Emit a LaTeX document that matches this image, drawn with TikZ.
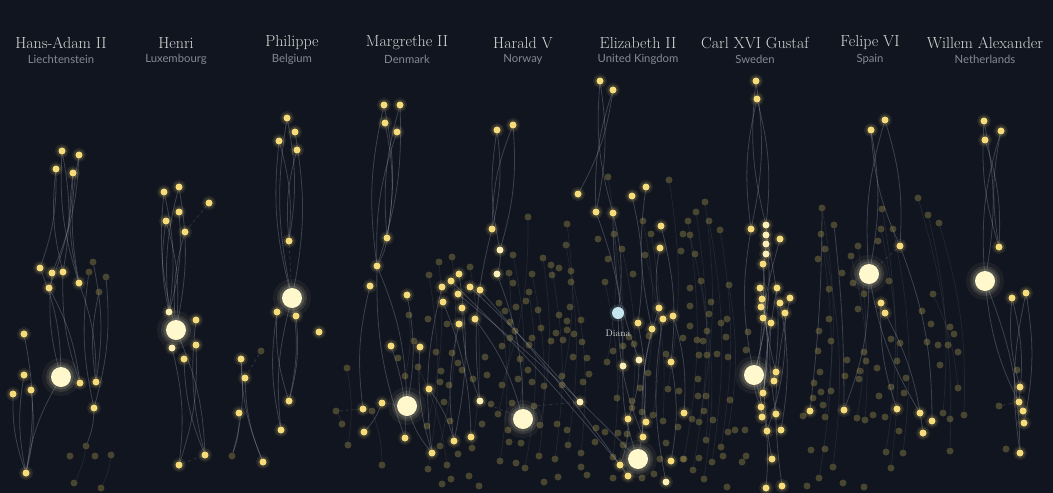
\documentclass[tikz,border=0pt]{standalone}
\usepackage{fontspec}
\setsansfont{Lato}
\usetikzlibrary{backgrounds}
\definecolor{bgc}{HTML}{11151F}
\definecolor{bigc}{HTML}{FFF8CC}
\definecolor{dotc}{HTML}{F6DC7A}
\definecolor{palec}{HTML}{FBF0B8}
\definecolor{dimc}{HTML}{C8B45A}
\definecolor{edgec}{HTML}{A4A9BE}
\definecolor{titlec}{HTML}{D6D6D6}
\definecolor{countryc}{HTML}{858993}
\definecolor{dianac}{HTML}{C5E6EE}
\tikzset{
 big/.style={circle, inner sep=0pt, minimum size=20pt, fill=bigc,
   preaction={draw=bigc, draw opacity=.05, line width=18pt},
   preaction={draw=bigc, draw opacity=.10, line width=10pt},
   preaction={draw=bigc, draw opacity=.15, line width=5pt}},
 dot/.style={circle, inner sep=0pt, minimum size=7pt, fill=dotc,
   preaction={draw=dotc, draw opacity=.08, line width=7pt},
   preaction={draw=dotc, draw opacity=.14, line width=3.5pt}},
 pale/.style={dot, fill=palec},
 dim/.style={circle, inner sep=0pt, minimum size=7pt, fill=dimc, opacity=.3},
 link/.style={draw=edgec, draw opacity=.3, line width=.8pt},
 faint/.style={draw=edgec, draw opacity=.12, line width=.7pt},
 dlink/.style={draw=edgec, draw opacity=.2, line width=.8pt, dashed},
 title/.style={font=\fontsize{16}{19}\selectfont, text=titlec},
 country/.style={font=\sffamily\fontsize{11.3}{13}\selectfont, text=countryc}
}
\begin{document}
\begin{tikzpicture}[x=1pt,y=-1pt]
\useasboundingbox (0,0) rectangle (1053,493);
% titles
\foreach \i/\x/\t/\c in {1/61/Hans-Adam II/Liechtenstein, 2/176/Henri/Luxembourg, 3/292/Philippe/Belgium, 4/407/Margrethe II/Denmark, 5/523/Harald V/Norway, 6/638/Elizabeth II/United Kingdom, 7/755/Carl XVI Gustaf/Sweden, 8/870/Felipe VI/Spain, 9/985/Willem Alexander/Netherlands}{
  \node[title] (t\i) at (\x,43) {\t};
  \node[country] (c\i) at (\x,59.5) {\c};
}
% dim dots
\foreach \x/\y in {93/262, 89/272, 106/277, 99/292, 86/446, 70/456, 95/456, 111/455, 74/483, 101/488, 232/456, 261/351,
608/177, 528/217, 567/224, 669/180, 643/221, 614/234, 651/234, 622/249, 645/255, 598/239, 608/259, 633/274, 566/245, 513/255, 543/258, 452/257, 439/262, 429/275, 470/267, 551/265, 559/268, 571/271, 532/274, 552/275, 509/273, 513/283, 571/282, 605/282, 529/292, 526/301, 499/303, 505/311, 516/307, 538/310, 570/307, 559/315, 567/321, 581/320, 541/328, 510/322, 515/331, 532/338, 556/333, 567/330, 551/341, 563/340, 574/334, 582/342, 502/346, 510/338, 529/345, 520/359, 409/315, 428/319, 447/324, 414/341, 398/358, 418/367, 405/376, 436/352, 452/353, 441/371, 458/363, 462/370, 440/382, 449/385, 473/379, 487/375, 485/357, 502/385, 518/379, 528/370, 532/382, 544/386, 562/385, 573/357, 587/358, 589/374, 583/382, 607/362, 613/351, 623/346, 634/344, 649/336, 629/337, 648/373, 666/354, 668/389, 679/391, 678/427, 640/388, 632/401, 632/408, 617/398, 642/412, 653/415, 663/421, 666/443, 618/433, 627/434, 623/445, 613/457, 642/478, 654/474, 660/459, 683/459, 613/478, 587/475, 581/467, 558/477, 544/482, 525/468, 516/463, 500/461, 539/456, 555/459, 568/445, 581/453, 595/442, 596/428, 605/432, 567/430, 557/424, 540/425, 519/414, 534/406, 512/403, 508/430, 521/443, 509/442, 498/414, 491/404, 482/424, 472/448, 458/454, 447/465, 428/469, 440/446, 427/426, 450/421, 444/402, 479/486, 469/476, 451/479, 442/484, 382/465, 372/411, 336/411, 342/424, 348/445, 347/368, 562/376,
705/202, 696/212, 709/221, 688/221, 683/234, 690/235, 720/230, 681/251, 695/254, 701/281, 690/288, 729/285, 711/302, 690/306, 709/314, 727/319, 721/323, 690/326, 707/331, 726/337, 683/338, 697/340, 703/341, 699/355, 707/355, 717/354, 728/357, 748/332, 746/350, 698/379, 698/396, 706/396, 730/400, 704/411, 713/420, 692/419, 699/422, 728/432, 735/430, 745/430, 706/440, 721/447, 723/456, 712/462, 699/458, 684/459, 742/462, 746/456, 693/470, 704/479, 727/487, 822/208, 834/225, 821/234, 825/249, 818/259, 842/273, 851/256, 858/246, 882/209, 881/229, 893/229, 878/241, 889/281, 864/294, 858/309, 853/283, 829/289, 829/319, 819/331, 831/341, 818/351, 820/372, 814/383, 821/392, 813/398, 823/405, 825/417, 831/391, 845/376, 847/360, 864/352, 866/361, 859/379, 860/371, 877/368, 891/339, 900/343, 897/361, 906/378, 891/387, 904/393, 879/396, 918/198, 928/215, 939/223, 933/294, 922/311, 931/324, 927/342, 938/345, 948/345, 950/327, 954/334, 958/352, 940/365, 958/388, 943/413, 950/419, 964/415, 950/451, 899/431, 857/418, 865/420, 873/415, 885/417, 825/449, 811/450, 803/416, 833/467, 843/483, 891/468, 886/452, 903/453, 864/487, 819/478, 807/486, 999/406, 1006/449, 1017/370}
  \node[dim] (n\x x\y) at (\x,\y) {};
% bright dots
\foreach \x/\y in {62/151, 79/155, 56/169, 73/173, 40/268, 52/273, 63/272, 49/288, 79/283, 80/383, 96/382, 94/408, 24/334, 24/375, 31/390, 13/394, 26/473,
164/192, 179/187, 209/203, 166/221, 179/212, 185/232, 196/320, 196/345, 184/359, 205/455, 179/465,
241/359, 245/378, 239/413, 263/462,
287/118, 279/141, 295/132, 297/150, 289/241, 277/312, 296/316, 319/332, 289/401, 281/430,
384/105, 400/105, 385/123, 397/132, 387/238, 377/266, 370/286, 407/295, 391/346, 420/347, 429/389, 382/403, 363/409, 364/432, 405/438, 432/453, 454/441, 471/437,
497/130, 513/125, 492/229, 459/274, 451/281, 442/287, 470/287, 480/290, 458/294, 443/302, 462/308, 475/319, 459/324,
600/81, 613/90, 578/194, 596/212, 613/213, 632/196, 646/187, 661/226, 660/248, 659/308, 663/319, 673/316, 638/323, 652/329, 671/362, 684/413, 628/419, 646/422, 643/437, 671/461, 620/465, 628/476,
756/81, 757/99, 751/229, 780/239, 763/264, 760/288, 777/288, 762/299, 780/303, 790/298, 761/307, 785/313, 763/318, 771/323, 776/372, 774/381, 763/393, 761/407, 776/414, 762/417, 767/431, 781/430, 772/459, 766/488, 782/486, 810/411, 844/410,
871/130, 885/120, 900/246, 881/303, 885/313, 897/409, 920/413, 932/421, 923/433,
984/121, 1001/131, 985/140, 999/247, 1012/298, 1026/293, 1020/387, 1019/402, 1023/411, 1024/423, 1020/453}
  \node[dot] (n\x x\y) at (\x,\y) {};
\foreach \x/\y in {169/312, 172/348, 500/250, 497/274, 480/401, 580/402, 623/366, 639/360, 666/482, 766/225, 766/235, 766/244, 766/254}
  \node[pale] (n\x x\y) at (\x,\y) {};
% monarchs
\node[big] (HA) at (61,377) {};
\node[big] (HE) at (176,330) {};
\node[big] (PH) at (292,298) {};
\node[big] (MA) at (407,406) {};
\node[big] (HV) at (523,419) {};
\node[big] (EL) at (638,459) {};
\node[big] (CG) at (754,375) {};
\node[big] (FE) at (869,274) {};
\node[big] (WA) at (985,281) {};
\node[circle, inner sep=0pt, minimum size=12pt, fill=dianac,
  preaction={draw=dianac, draw opacity=.12, line width=5pt}] (DI) at (618,313) {};
\node[font=\fontsize{9.5}{11}\selectfont, text=titlec] (DIl) at (618,333) {Diana};
\begin{pgfonlayer}{background}
\fill[bgc] (0,0) rectangle (1053,493);
% faint links among the crowd
\foreach \a/\b in {n608x177/n607x362, n528x217/n502x385, n567x224/n562x385, n669x180/n668x389, n643x221/n648x373, n614x234/n617x398, n651x234/n653x415, n622x249/n632x408, n645x255/n663x421, n566x245/n568x445, n513x255/n519x414, n543x258/n540x425, n452x257/n440x446, n439x262/n427x426, n429x275/n428x469, n470x267/n472x448, n551x265/n555x459, n571x271/n581x453, n532x274/n539x456, n509x273/n498x414, n605x282/n613x457, n529x292/n525x468, n499x303/n500x461, n705x202/n699x422, n696x212/n693x470, n709x221/n712x462, n688x221/n684x459, n720x230/n721x447, n690x235/n706x440, n729x285/n728x432, n701x281/n704x479, n822x208/n825x417, n821x234/n819x478, n825x249/n833x467, n882x209/n886x452, n881x229/n891x468, n893x229/n903x453, n858x246/n857x418, n851x256/n865x420, n918x198/n950x451, n928x215/n943x413, n939x223/n964x415, n933x294/n958x388, n347x368/n348x445, n372x411/n382x465, n409x315/n405x376, n418x367/n447x465, n336x411/n342x424, n86x446/n74x483, n111x455/n101x488}
  \draw[faint] (\a) to[bend left=9] (\b);
% family links, bending left
\foreach \a/\b in {n62x151/n63x272, n79x155/n52x273, n56x169/n40x268, n73x173/n49x288, n40x268/HA, n49x288/n80x383, n79x283/n96x382, n93x262/n96x382, n106x277/n94x408, n24x334/n26x473, n31x390/n26x473, n94x408/n86x446,
n164x192/n169x312, n179x187/HE, n166x221/HE, n179x212/n169x312, HE/n205x455, n172x348/n179x465, n196x345/n179x465,
n241x359/n232x456, n239x413/n232x456,
n287x118/n289x241, n295x132/PH, n279x141/n289x241, PH/n289x401, n296x316/n289x401,
n384x105/n387x238, n385x123/n387x238, n400x105/n377x266, n387x238/n377x266, n377x266/MA, n407x295/MA, n391x346/n405x438, n429x389/n454x441, n382x403/n364x432,
n497x130/n492x229, n513x125/n500x250, n500x250/n497x274, n497x274/HV, n459x274/n454x441, n443x302/n471x437, n475x319/HV,
n600x81/n596x212, n613x90/n578x194, n596x212/n623x366, n613x213/DI, n632x196/n638x323, n661x226/n671x362, n638x323/EL, n639x360/n628x419, n671x362/n671x461, n673x316/n684x413, n628x419/n620x465,
n756x81/n751x229, n757x99/n766x225, n766x225/CG, n763x264/CG, n760x288/n763x393, n780x303/n781x430, n785x313/n767x431, CG/n766x488, n766x235/n774x381, n762x299/n763x393,
n871x130/FE, n885x120/n900x246, FE/n844x410, n885x313/n923x433, n900x246/n932x421,
n984x121/WA, n985x140/n999x247, WA/n1020x453, n1026x293/n1024x423, n1012x298/n1019x402}
  \draw[link] (\a) to[bend left=10] (\b);
% family links, bending right
\foreach \a/\b in {n62x151/n79x283, n79x155/n79x283, n56x169/n63x272, n73x173/n79x283, n52x273/HA, n63x272/n80x383, n89x272/n94x408, n99x292/n96x382, n24x375/n26x473, HA/n26x473, n13x394/n26x473,
n164x192/HE, n179x187/n169x312, n185x232/HE, n166x221/n169x312, n196x320/n205x455, n184x359/n205x455,
n245x378/n263x462, n241x359/n263x462,
n287x118/PH, n279x141/PH, n297x150/n289x241, n277x312/n281x430, n277x312/n289x401, PH/n281x430,
n384x105/n377x266, n397x132/n377x266, n400x105/n387x238, n370x286/n363x409, n377x266/n405x438, n420x347/n432x453, MA/n432x453,
n513x125/n492x229, n497x130/n500x250, n492x229/n480x401, n442x287/n432x453, n462x308/n480x401, n459x324/n454x441,
n600x81/n613x213, n613x90/n596x212, n613x213/n639x360, n646x187/n652x329, n660x248/n659x308, n623x366/EL, n652x329/n646x422, n663x319/n666x482, n659x308/n643x437, DI/n643x437,
n756x81/n766x225, n757x99/n751x229, n751x229/CG, n777x288/n776x414, n790x298/n782x486, n771x323/n772x459, CG/n761x407, n780x239/n762x417, n766x244/n776x372,
n885x120/FE, n871x130/n900x246, n881x303/n897x409, FE/n920x413,
n1001x131/WA, n1001x131/n999x247, n984x121/n999x247, n1012x298/n1020x387, WA/n1023x411, n1026x293/n1020x453}
  \draw[link] (\a) to[bend right=10] (\b);
% long diagonals
\foreach \a/\b in {n451x281/n620x465, n458x294/EL, n470x287/n580x402, n480x290/n628x476, n822x208/n810x411, n834x225/n844x410}
  \draw[link] (\a) to[bend left=3] (\b);
% dashed links
\foreach \a/\b in {n209x203/n185x232, n261x351/n245x378, n179x465/n205x455, n289x241/PH, MA/n382x403, n480x401/HV, n336x411/n363x409, n580x402/n534x406, FE/n900x246, n999x406/n1019x402}
  \draw[dlink] (\a) -- (\b);
\end{pgfonlayer}
\end{tikzpicture}
\end{document}
